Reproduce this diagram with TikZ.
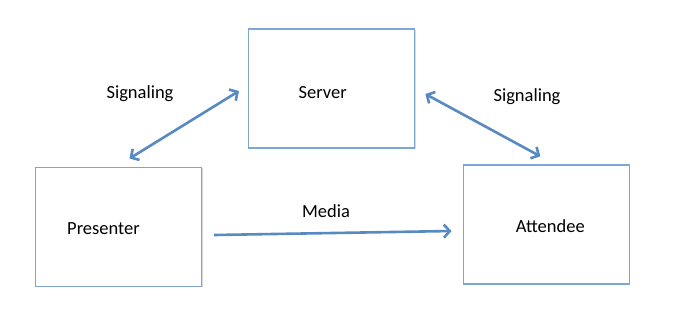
\documentclass[tikz,border=0pt]{standalone}
\usepackage{fontspec}
\setmainfont{Carlito}
\usetikzlibrary{arrows.meta,shadows}
\definecolor{boxline}{RGB}{126,166,210}
\definecolor{arrowblue}{RGB}{88,138,194}
\tikzset{
  box/.style={draw=boxline, line width=1.4pt, fill=white, minimum width=166pt, minimum height=119pt,
    inner sep=0pt, drop shadow={shadow xshift=1pt, shadow yshift=-1pt, opacity=0.15, fill=black}},
  flow/.style={draw=arrowblue, line width=2.6pt, -{Straight Barb[length=6pt, width=13pt]}},
  both/.style={flow, {Straight Barb[length=6pt, width=13pt]}-{Straight Barb[length=6pt, width=13pt]}},
}
\begin{document}
\begin{tikzpicture}[x=1pt, y=-1pt, font=\fontsize{18.5}{22}\selectfont]
\useasboundingbox (0,0) rectangle (700,325);
\node[box, label={[xshift=-9pt, yshift=-4pt]center:Server}] (server) at (331.7, 88.5) {};
\node[box, label={[xshift=-15pt, yshift=-2pt]center:Presenter}] (presenter) at (118.5, 226.7) {};
\node[box, label={[xshift=4pt, yshift=-1.5pt]center:Attendee}] (attendee) at (546.3, 224.5) {};
% signaling both ways, media one way
\draw[both] ([shift={(11,-8)}]presenter.north) -- ([shift={(-9,2.5)}]server.west);
\draw[both] ([shift={(10,5.5)}]server.east) -- ([shift={(-6,-8)}]attendee.north);
\draw[flow] ([shift={(12,8.3)}]presenter.east) -- ([shift={(-11,6.5)}]attendee.west);
\node (sigl) at (140, 94) {Signaling};
\node (sigr) at (527, 97) {Signaling};
\node (media) at (326, 211) {Media};
\end{tikzpicture}
\end{document}
